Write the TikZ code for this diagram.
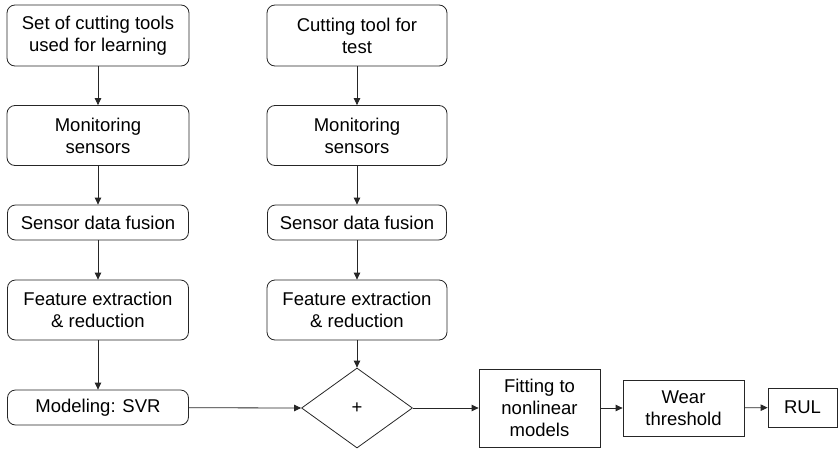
\documentclass[tikz,border=0pt]{standalone}
\usepackage{fontspec}
\setmainfont{Liberation Sans}
\usetikzlibrary{shapes.geometric,arrows.meta}

\tikzset{
  boxtext/.style={font=\fontsize{18.5}{22}\selectfont,align=center,inner sep=0pt},
  rbox/.style={boxtext,draw=black!85,line width=0.8pt,rounded corners=8pt},
  sbox/.style={boxtext,draw=black!85,line width=0.8pt},
  flow/.style={draw=black!85,line width=0.8pt,-{Triangle[length=7pt,width=6.5pt]}}
}

\begin{document}
\begin{tikzpicture}[x=1pt,y=1pt,yscale=-1,xscale=1]
\useasboundingbox (0,0) rectangle (838,450);

%Shape: learning column
\node [rbox,minimum width=182,minimum height=61] (learnTools) at (98,35.5) {Set of cutting tools\\used for learning};
\node [rbox,minimum width=182,minimum height=60] (learnSensors) at (98,135.5) {Monitoring\\sensors};
\node [rbox,minimum width=181,minimum height=35] (learnFusion) at (98,222.5) {Sensor data fusion};
\node [rbox,minimum width=181,minimum height=60] (learnFeature) at (98,310) {Feature extraction\\\& reduction};
\node [rbox,minimum width=181,minimum height=35] (modelSVR) at (98,407.5) {Modeling: SVR};

%Shape: test column
\node [rbox,minimum width=180,minimum height=61] (testTool) at (357,35.5) {Cutting tool for\\test};
\node [rbox,minimum width=180,minimum height=60] (testSensors) at (357,135.5) {Monitoring\\sensors};
\node [rbox,minimum width=179,minimum height=35] (testFusion) at (357,222.5) {Sensor data fusion};
\node [rbox,minimum width=180,minimum height=60] (testFeature) at (357,310) {Feature extraction\\\& reduction};

%Shape: Diamond
\node [diamond,draw=black!85,line width=0.8pt,inner sep=0pt,minimum width=111,minimum height=80,font=\fontsize{18.5}{22}\selectfont] (combine) at (357,408) {+};

%Shape: output chain
\node [sbox,minimum width=121,minimum height=78] (fitModels) at (539.5,408) {Fitting to\\nonlinear\\models};
\node [sbox,minimum width=121,minimum height=56] (wearLimit) at (683.5,408) {Wear\\threshold};
\node [sbox,minimum width=69,minimum height=39] (rul) at (802.5,407.5) {RUL};

%Straight Lines
\draw [flow] (learnTools) -- (learnSensors);
\draw [flow] (learnSensors) -- (learnFusion);
\draw [flow] (learnFusion) -- (learnFeature);
\draw [flow] (learnFeature) -- (modelSVR);
\draw [flow] (testTool) -- (testSensors);
\draw [flow] (testSensors) -- (testFusion);
\draw [flow] (testFusion) -- (testFeature);
\draw [flow] (testFeature) -- (combine.north);
\draw [flow] (modelSVR) -- (combine.west);
\draw [flow] (combine.east) -- (fitModels);
\draw [flow] (fitModels) -- (wearLimit);
\draw [flow] (wearLimit) -- (rul);

\end{tikzpicture}
\end{document}
